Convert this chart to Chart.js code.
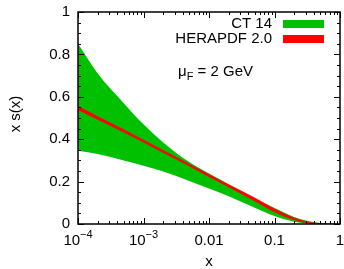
<!DOCTYPE html>
<html>
<head>
<meta charset="utf-8">
<script src="https://cdn.jsdelivr.net/npm/chart.js@4"></script>
<style>
  body { margin: 0; background: #fff; }
  #wrap { width: 344px; height: 269px; }
</style>
</head>
<body>
<div id="wrap"><canvas id="pdfChart" width="344" height="269"></canvas></div>
<script>
const xVals = [1e-4, 2e-4, 5e-4, 1e-3, 2e-3, 5e-3, 0.01, 0.02, 0.05, 0.1, 0.2, 0.3, 0.5, 0.7, 1];

// CT 14 band (upper / lower)
const ct14Up  = [0.85, 0.71, 0.57, 0.47, 0.385, 0.292, 0.238, 0.188, 0.122, 0.075, 0.033, 0.016, 0.004, 0.0, 0.0];
const ct14Low = [0.345, 0.33, 0.30, 0.275, 0.248, 0.203, 0.167, 0.131, 0.077, 0.038, 0.011, 0.004, 0.0, 0.0, 0.0];

// HERAPDF 2.0 band (upper / lower)
const heraUp  = [0.555, 0.507, 0.445, 0.396, 0.347, 0.283, 0.233, 0.185, 0.123, 0.071, 0.028, 0.011, 0.002, 0.0, 0.0];
const heraLow = [0.539, 0.493, 0.433, 0.386, 0.337, 0.274, 0.223, 0.175, 0.109, 0.057, 0.020, 0.006, 0.0, 0.0, 0.0];

const xTicks = [1e-4, 1e-3, 0.01, 0.1, 1];
const xTickText = [["10", "\u22124"], ["10", "\u22123"], ["0.01"], ["0.1"], ["1"]];
const yTicks = [0, 0.2, 0.4, 0.6, 0.8, 1];
const yTickText = ["0", "0.2", "0.4", "0.6", "0.8", "1"];

const legendItems = [
  { label: "CT 14", color: "rgb(0,192,0)" },
  { label: "HERAPDF 2.0", color: "rgb(255,0,0)" },
];

const FONT = "Liberation Sans, Arial, Helvetica, sans-serif";
const GREEN = "rgb(0,192,0)";
const RED = "rgb(255,0,0)";

function toPoints(ys) {
  return xVals.map((x, i) => ({ x: x, y: ys[i] }));
}

// axes, ticks, labels, legend drawn gnuplot-style
const frame = {
  id: "frame",
  afterDraw(chart) {
    const ctx = chart.ctx;
    const area = chart.chartArea;
    const xs = chart.scales.x;
    const ys = chart.scales.y;
    ctx.save();
    ctx.strokeStyle = "#000";
    ctx.lineWidth = 1;

    // y ticks, major and minor, both sides
    for (let k = 0; k <= 20; k++) {
      const v = k * 0.05;
      const py = Math.round(ys.getPixelForValue(v)) + 0.5;
      const len = k % 4 === 0 ? 6 : 3;
      ctx.beginPath();
      ctx.moveTo(area.left, py); ctx.lineTo(area.left + len, py);
      ctx.moveTo(area.right, py); ctx.lineTo(area.right - len, py);
      ctx.stroke();
    }
    // x ticks, decades and minor
    for (let d = -4; d <= 0; d++) {
      for (let m = 1; m <= 9; m++) {
        const v = m * Math.pow(10, d);
        if (v > 1.0001) break;
        const px = Math.round(xs.getPixelForValue(v)) + 0.5;
        const len = m === 1 ? 6 : 3;
        ctx.beginPath();
        ctx.moveTo(px, area.bottom); ctx.lineTo(px, area.bottom - len);
        ctx.moveTo(px, area.top); ctx.lineTo(px, area.top + len);
        ctx.stroke();
      }
    }

    // border
    ctx.lineWidth = 1.5;
    ctx.strokeRect(area.left, area.top, area.right - area.left, area.bottom - area.top);

    ctx.fillStyle = "#000";
    // y tick labels
    ctx.font = "15px " + FONT;
    ctx.textAlign = "right";
    ctx.textBaseline = "middle";
    yTicks.forEach((v, i) => {
      ctx.fillText(yTickText[i], area.left - 8, ys.getPixelForValue(v));
    });

    // x tick labels
    ctx.textBaseline = "alphabetic";
    ctx.textAlign = "left";
    xTicks.forEach((v, i) => {
      const px = xs.getPixelForValue(v);
      const parts = xTickText[i];
      ctx.font = "15px " + FONT;
      const w0 = ctx.measureText(parts[0]).width;
      let w1 = 0;
      if (parts[1]) {
        ctx.font = "11px " + FONT;
        w1 = ctx.measureText(parts[1]).width;
      }
      const start = px - (w0 + w1) / 2;
      ctx.font = "15px " + FONT;
      ctx.fillText(parts[0], start, 245);
      if (parts[1]) {
        ctx.font = "11px " + FONT;
        ctx.fillText(parts[1], start + w0, 238);
      }
    });

    // axis titles
    ctx.font = "15px " + FONT;
    ctx.textAlign = "center";
    ctx.textBaseline = "middle";
    ctx.fillText("x", (area.left + area.right) / 2, 262);
    ctx.save();
    ctx.translate(16, 114);
    ctx.rotate(-Math.PI / 2);
    ctx.fillText("x s(x)", 0, 0);
    ctx.restore();

    // legend
    ctx.textAlign = "right";
    legendItems.forEach((item, i) => {
      const cy = 24 + i * 15;
      ctx.fillStyle = "#000";
      ctx.fillText(item.label, 272, cy);
      ctx.fillStyle = item.color;
      ctx.fillRect(283, cy - 4, 41, 8);
    });

    // mu_F annotation
    ctx.fillStyle = "#000";
    ctx.textAlign = "left";
    ctx.textBaseline = "alphabetic";
    ctx.font = "15px " + FONT;
    ctx.fillText("\u03bc", 178, 76);
    let cx = 178 + ctx.measureText("\u03bc").width;
    ctx.font = "11px " + FONT;
    ctx.fillText("F", cx, 80);
    cx += ctx.measureText("F").width;
    ctx.font = "15px " + FONT;
    ctx.fillText(" = 2 GeV", cx, 76);

    ctx.restore();
  },
};

function initChart() {
  const bandData = {
    datasets: [
      {
        label: "HERAPDF 2.0 up",
        data: toPoints(heraUp),
        borderColor: RED,
        backgroundColor: RED,
        borderWidth: 0.6,
        fill: "+1",
        order: 1,
      },
      {
        label: "HERAPDF 2.0 low",
        data: toPoints(heraLow),
        borderColor: RED,
        borderWidth: 0.6,
        fill: false,
        order: 1,
      },
      {
        label: "CT 14 up",
        data: toPoints(ct14Up),
        borderColor: GREEN,
        backgroundColor: GREEN,
        borderWidth: 0,
        fill: "+1",
        order: 2,
      },
      {
        label: "CT 14 low",
        data: toPoints(ct14Low),
        borderColor: GREEN,
        borderWidth: 0,
        fill: false,
        order: 2,
      },
    ],
  };

  const config = {
    type: "line",
    data: bandData,
    options: {
      responsive: false,
      animation: false,
      events: [],
      layout: { padding: { left: 78, right: 4, top: 12, bottom: 45 } },
      elements: {
        point: { radius: 0 },
        line: { cubicInterpolationMode: "monotone" },
      },
      plugins: {
        legend: { display: false },
        tooltip: { enabled: false },
      },
      scales: {
        x: { type: "logarithmic", min: 1e-4, max: 1, display: false },
        y: { type: "linear", min: 0, max: 1, display: false },
      },
    },
    plugins: [frame],
  };

  new Chart(document.getElementById("pdfChart"), config);
}

document.addEventListener("DOMContentLoaded", initChart);
</script>
</body>
</html>
